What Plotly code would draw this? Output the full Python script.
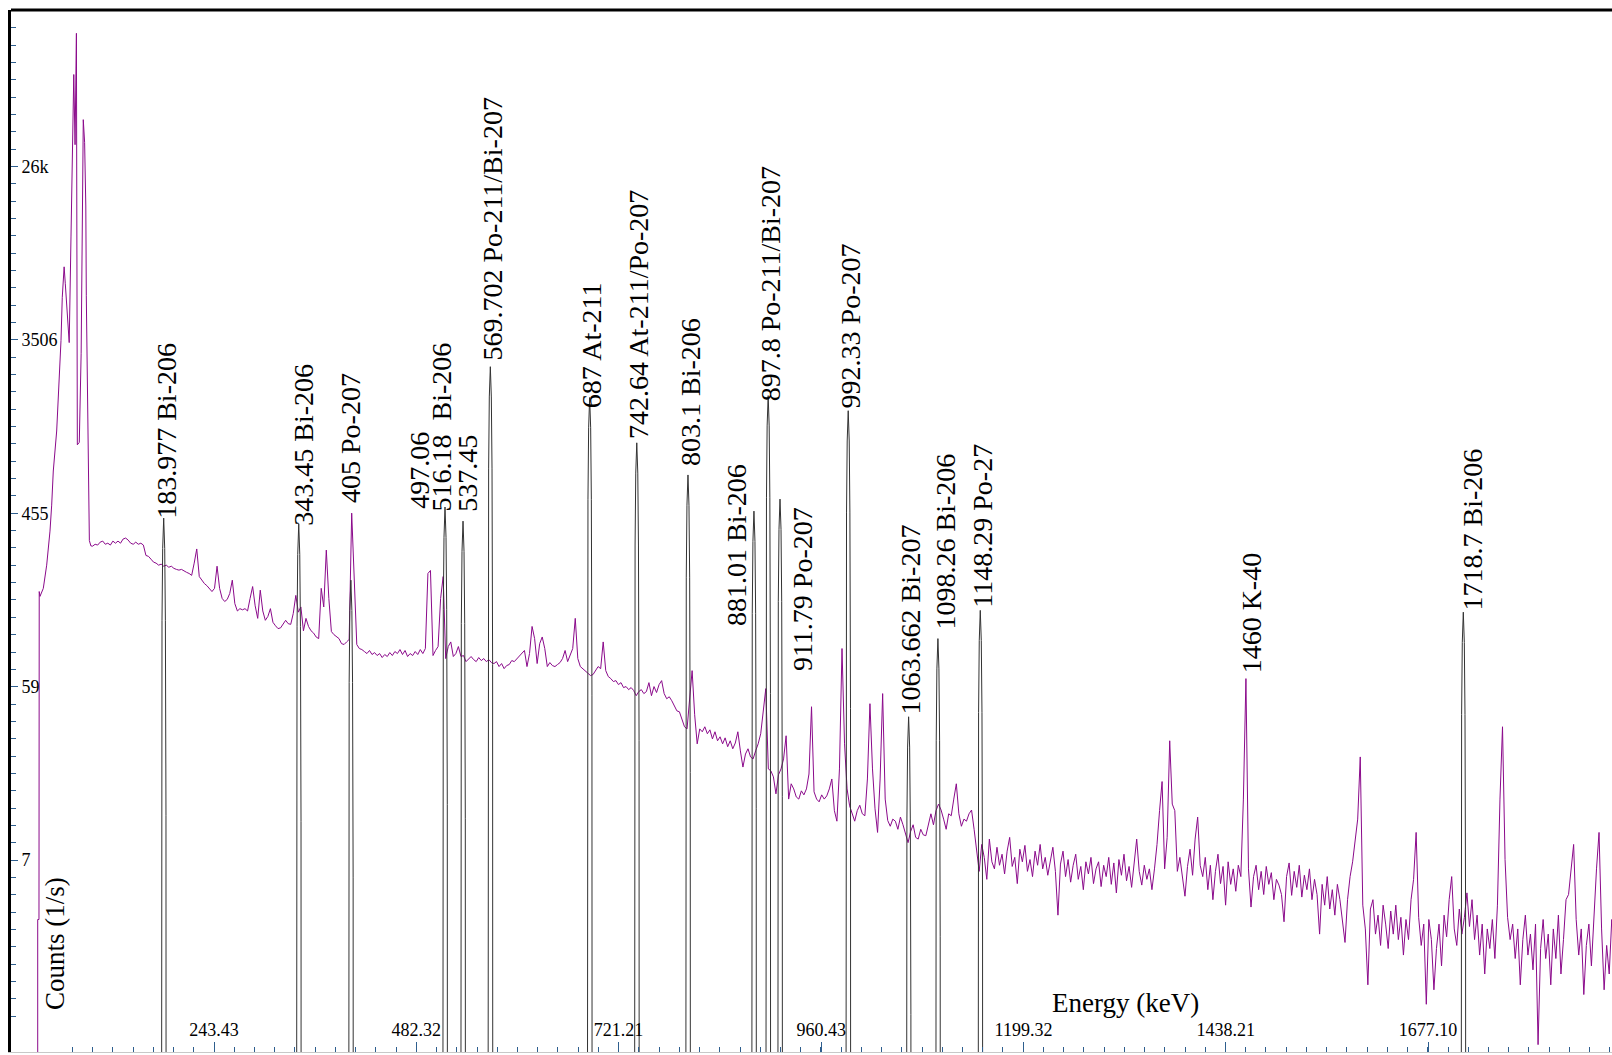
import numpy as np
import plotly.graph_objects as go

# ---------------------------------------------------------------------------
# Spectrum data (counts per second)
# ---------------------------------------------------------------------------

# Low-energy part with the Po K X-rays, listed point by point (keV, 1/s)
XRAY_KEV = [35.2, 35.2, 36.7, 37.0, 37.9, 41.8, 45.8, 49.7, 51.7, 53.6,
            57.6, 60.7, 62.7, 64.2, 66.4, 67.8, 69.6, 72.4, 74.5, 76.5,
            77.8, 79.3, 80.9, 82.0, 84.3, 86.5, 88.0, 89.0, 90.6, 92.0,
            92.6, 94.0, 95.0, 96.2, 98.0]
XRAY_CPS = [0.01, 3.8, 3.8, 181, 171, 188, 247, 369, 501, 749,
            1200, 2250, 3490, 5800, 8300, 6800, 5400, 3400, 11800, 37000,
            80000, 35000, 130000, 1020, 1050, 3000, 20000, 47000, 36000, 17000,
            5900, 2000, 700, 330, 310]

# Continuum from 100 keV upward, one channel every 3 keV
GRID_START_KEV = 100.0
GRID_STEP_KEV = 3.0
GRID_CPS = [
    309, 316, 313, 324, 328, 316, 320, 313, 328, 320,          # 100 keV
    328, 320, 336, 340, 332, 320, 316, 324, 316, 320,
    313, 277, 274, 265, 256, 253, 247, 250, 244, 247,
    241, 244, 238, 235, 233, 235, 230, 227, 224, 219,
    253, 299, 216, 207, 199, 194, 188, 181, 188, 244,
    188, 167, 161, 165, 177, 207, 157, 144, 148, 146,          # 250 keV
    148, 144, 167, 192, 153, 132, 184, 144, 129, 135,
    148, 126, 121, 117, 118, 123, 129, 124, 123, 140,
    173, 142, 151, 114, 132, 120, 114, 111, 106, 104,
    188, 151, 295, 167, 113, 109, 106, 104, 98, 97,
    100, 103, 456, 219, 97, 92.5, 91.4, 89.3, 87.2, 90.4,      # 400 keV
    86.2, 88.2, 85.2, 87.2, 83.2, 86.2, 84.2, 88.2, 85.2, 89.3,
    87.2, 91.4, 86.2, 90.4, 84.2, 87.2, 85.2, 89.3, 86.2, 91.4,
    87.2, 92.5, 224, 232, 85.2, 90.4, 94.7, 167, 216, 82.2,
    94.7, 100, 84.2, 87.2, 94.7, 84.2, 85.2, 79.3, 82.2, 84.2,
    81.2, 79.3, 83.2, 80.3, 82.2, 79.3, 81.2, 78.4, 77.5, 79.3,  # 550 keV
    74.8, 77.5, 73.0, 75.7, 76.6, 80.3, 79.3, 82.2, 84.2, 87.2,
    90.4, 74.8, 87.2, 120, 104, 77.5, 98, 106, 92.5, 74.8,
    78.4, 75.7, 74.8, 76.6, 78.4, 82.2, 90.4, 79.3, 86.2, 92.5,
    132, 82.2, 74.8, 73.0, 71.3, 68.9, 67.3, 68.1, 71.3, 74.8,
    73.0, 100, 71.3, 66.5, 64.9, 62.7, 63.4, 60.5, 61.9, 58.4,  # 700 keV
    59.1, 57.0, 58.4, 56.4, 53.1, 55.7, 57.0, 54.4, 55.7, 61.9,
    53.1, 59.1, 55.1, 60.5, 63.4, 54.4, 51.2, 52.4, 50.0, 46.6,
    44.4, 43.9, 39.6, 36.8, 35.9, 51.2, 71.3, 42.4, 30.1, 35.9,
    34.7, 36.8, 33.9, 35.5, 31.9, 34.7, 31.2, 32.7, 30.1, 32.3,
    29.1, 31.2, 28.4, 30.4, 34.7, 27.7, 22.9, 26.7, 28.4, 25.8,  # 850 keV
    25.2, 27.7, 30.1, 33.9, 45.5, 57.7, 22.4, 21.9, 20.4, 16.7,
    20.9, 22.4, 25.2, 33.1, 15.7, 18.8, 17.7, 16.1, 15.7, 17.3,
    16.5, 17.7, 21.1, 46.6, 17.1, 15.7, 15.2, 16.5, 15.7, 16.3,
    17.7, 19.9, 13.7, 12.1, 22.4, 92.5, 30.1, 17.7, 14.5, 13.2,
    12.1, 13.7, 14.6, 13.2, 12.9, 19.9, 48.3, 22.4, 14.0, 10.6,  # 1000 keV
    19.9, 54.4, 15.7, 12.2, 11.4, 12.4, 12.1, 11.0, 12.7, 11.6,
    10.4, 9.4, 10.7, 11.6, 10.0, 9.8, 11.0, 10.3, 10.2, 11.6,
    13.2, 11.6, 13.7, 14.8, 13.8, 12.4, 11.0, 13.2, 12.9, 15.7,
    18.8, 13.2, 11.4, 12.4, 12.1, 13.2, 13.8, 11.0, 8.7, 6.7,
    9.2, 7.9, 6.1, 9.8, 7.5, 6.9, 8.9, 7.2, 8.2, 6.5,           # 1150 keV
    8.5, 10.0, 7.1, 7.9, 5.8, 8.7, 7.5, 9.1, 6.7, 7.7,
    6.3, 8.5, 7.2, 9.2, 6.9, 7.9, 6.4, 7.5, 8.9, 6.7,
    4.0, 7.3, 8.5, 6.3, 7.7, 5.9, 7.2, 8.2, 6.1, 7.1,
    5.4, 7.5, 6.5, 7.9, 5.8, 6.9, 7.5, 5.6, 7.2, 6.3,
    7.9, 5.75, 7.4, 5.2, 7.7, 6.4, 8.2, 6.0, 7.1, 5.55,        # 1300 keV
    7.5, 9.8, 6.7, 5.7, 7.2, 6.1, 6.9, 5.4, 6.9, 9.2,
    13.7, 19.3, 6.9, 10.0, 31.2, 14.8, 13.7, 6.7, 7.9, 6.1,
    5.0, 7.1, 8.7, 6.4, 9.8, 12.7, 7.2, 6.3, 7.9, 5.4,
    7.2, 4.8, 6.7, 8.2, 5.8, 7.1, 4.5, 7.5, 5.75, 6.9,
    5.3, 7.2, 6.3, 15.7, 64.9, 6.9, 4.4, 6.3, 7.2, 5.4,        # 1450 keV
    6.7, 5.1, 7.1, 5.75, 6.6, 4.8, 6.1, 5.7, 5.1, 3.7,
    6.3, 7.4, 5.05, 6.7, 5.55, 7.2, 4.95, 6.4, 5.4, 6.9,
    4.8, 6.1, 5.1, 3.2, 5.75, 4.5, 6.3, 4.3, 5.4, 4.0,
    5.75, 4.8, 3.8, 2.9, 4.8, 6.3, 7.5, 9.8, 12.4, 25.8,
    4.5, 3.4, 1.76, 4.3, 4.8, 3.2, 4.0, 2.8, 4.5, 3.6,         # 1600 keV
    2.7, 4.2, 3.2, 4.5, 3.0, 3.9, 2.5, 3.8, 3.0, 4.8,
    6.1, 10.6, 3.9, 2.8, 3.6, 1.40, 3.8, 3.0, 1.66, 2.7,
    3.6, 2.2, 4.0, 3.1, 4.8, 6.3, 3.4, 2.8, 4.3, 3.2,
    3.9, 5.2, 3.5, 4.8, 3.0, 4.0, 2.5, 3.6, 2.0, 3.4,
    2.7, 3.8, 2.4, 4.5, 15.7, 36.8, 7.7, 3.9, 3.0, 3.6,        # 1750 keV
    2.4, 3.4, 1.76, 3.0, 4.0, 2.5, 3.2, 2.1, 3.6, 0.87,
    2.7, 3.8, 2.4, 3.2, 1.76, 3.4, 2.4, 4.0, 2.0, 3.0,
    4.8, 5.1, 6.9, 9.2, 3.8, 2.5, 3.4, 1.57, 2.8, 3.6,
    2.2, 4.3, 6.9, 10.6, 3.4, 1.66, 2.8, 2.0, 3.8, 2.7,
]

# Fitted peaks: centroid (keV) and peak height (1/s)
PEAK_KEV = [183.977, 343.45, 405.0, 516.18, 537.45, 569.702, 687.0, 742.64,
            803.1, 881.01, 897.8, 911.79, 992.33, 1063.662, 1098.26, 1148.29,
            1718.7]
PEAK_CPS = [430, 401, 207, 490, 415, 2560, 1780, 1044,
            715, 467, 1820, 538, 1524, 41.4, 104, 145,
            142]

# Peak identifications
LABEL_TEXT = ["183.977 Bi-206", "343.45 Bi-206", "405 Po-207", "497.06",
              "516.18  Bi-206", "537.45", "569.702 Po-211/Bi-207",
              "687 At-211", "742.64 At-211/Po-207", "803.1 Bi-206",
              "881.01 Bi-206", "897.8 Po-211/Bi-207", "911.79 Po-207",
              "992.33 Po-207", "1063.662 Bi-207", "1098.26 Bi-206",
              "1148.29 Po-27", "1460 K-40", "1718.7 Bi-206"]
LABEL_KEV = [183.977, 343.45, 405.0, 497.06, 516.18, 537.45, 569.702,
             687.0, 742.64, 803.1, 881.01, 897.8, 911.79, 992.33,
             1063.662, 1098.26, 1148.29, 1460.0, 1718.7]

# Axis ticks
X_TICK_VALS = [243.43, 482.32, 721.21, 960.43, 1199.32, 1438.21, 1677.10]
X_TICK_TEXT = ["243.43", "482.32", "721.21", "960.43", "1199.32", "1438.21", "1677.10"]
Y_TICK_VALS = [7.66, 59.0, 455.0, 3506.0, 27030.0]
Y_TICK_TEXT = ["7", "59", "455", "3506", "26k"]

# ---------------------------------------------------------------------------
# Styling
# ---------------------------------------------------------------------------
FONT = "Liberation Serif, Times New Roman, serif"
SPECTRUM_COLOR = "#8B0A8B"
PEAK_COLOR = "#333333"
TICK_COLOR = "#2E5E8E"

# pixel nudges for crowded labels (dx, dy)
LABEL_NUDGE = {
    "183.977 Bi-206": (0, -3), "343.45 Bi-206": (2, -4), "405 Po-207": (-3, 8),
    "497.06": (-11, 60), "516.18  Bi-206": (-5, -7), "537.45": (3, 7),
    "569.702 Po-211/Bi-207": (0, 4), "687 At-211": (0, -13),
    "742.64 At-211/Po-207": (0, 2), "803.1 Bi-206": (1, 7),
    "881.01 Bi-206": (-20, -117), "897.8 Po-211/Bi-207": (0, -8),
    "911.79 Po-207": (20, -174),
    "1098.26 Bi-206": (6, 7), "1148.29 Po-27": (0, 1),
    "1460 K-40": (5, 3), "1718.7 Bi-206": (7, 0),
}
LABEL_GAP = 0

# ---------------------------------------------------------------------------
energy = np.concatenate([XRAY_KEV,
                         GRID_START_KEV + GRID_STEP_KEV * np.arange(len(GRID_CPS))])
counts = np.concatenate([XRAY_CPS, GRID_CPS]).astype(float)

# outline of each fitted peak, drawn as a narrow spike around its centroid
SHAPE_DKEV = np.array([-3.0, -2.7, -2.0, -1.2, 0.0, 1.2, 2.0, 2.7, 3.0])
SHAPE_REL = np.array([1e-6, 0.03, 0.30, 0.70, 1.0, 0.70, 0.30, 0.03, 1e-6])
peak_x, peak_y = [], []
for e, h in zip(PEAK_KEV, PEAK_CPS):
    peak_x += list(e + SHAPE_DKEV) + [None]
    peak_y += list(h * SHAPE_REL) + [None]

fig = go.Figure()
fig.add_trace(go.Scatter(x=energy, y=counts, mode="lines",
                         line=dict(color=SPECTRUM_COLOR, width=1),
                         hoverinfo="x+y", showlegend=False))
fig.add_trace(go.Scatter(x=peak_x, y=peak_y, mode="lines",
                         line=dict(color=PEAK_COLOR, width=1),
                         connectgaps=False, hoverinfo="skip", showlegend=False))

peak_height = dict(zip(PEAK_KEV, PEAK_CPS))
for text, e in zip(LABEL_TEXT, LABEL_KEV):
    near = np.abs(energy - e) <= 3.5
    top = max(counts[near].max() if near.any() else 0.0, peak_height.get(e, 0.0))
    dx, dy = LABEL_NUDGE.get(text, (0, 0))
    fig.add_annotation(x=e, y=np.log10(top), xref="x", yref="y",
                       text=text, textangle=-90, showarrow=False,
                       xanchor="center", yanchor="bottom",
                       xshift=2 + dx, yshift=LABEL_GAP + dy,
                       font=dict(family=FONT, size=28, color="black"))

# axis titles sit inside the plotting area
fig.add_annotation(x=0.0275, y=0.1036, xref="paper", yref="paper",
                   text="Counts (1/s)", textangle=-90, showarrow=False,
                   xanchor="center", yanchor="middle",
                   font=dict(family=FONT, size=27, color="black"))
fig.add_annotation(x=0.6961, y=0.047, xref="paper", yref="paper",
                   text="Energy (keV)", showarrow=False,
                   xanchor="center", yanchor="middle",
                   font=dict(family=FONT, size=27, color="black"))

# frame line along the top
fig.add_shape(type="line", xref="paper", yref="paper", x0=0, x1=1, y0=1, y1=1,
              line=dict(color="black", width=3))

fig.update_layout(
    width=1612, height=1055,
    margin=dict(l=11, r=0, t=10, b=3, autoexpand=False),
    paper_bgcolor="white", plot_bgcolor="white",
    font=dict(family=FONT, color="black"),
    xaxis=dict(
        range=[3.66, 1894.3], showgrid=False, zeroline=False,
        showline=True, linecolor="#c8c8c8", linewidth=1,
        ticks="inside", ticklen=10, tickwidth=1, tickcolor=TICK_COLOR,
        tickmode="array", tickvals=X_TICK_VALS, ticktext=X_TICK_TEXT,
        ticklabelposition="inside", ticklabelstandoff=3,
        tickfont=dict(family=FONT, size=18, color="black"),
        minor=dict(ticks="inside", ticklen=5, tickwidth=1, tickcolor=TICK_COLOR,
                   tickmode="linear", tick0=4.54, dtick=23.889, showgrid=False),
    ),
    yaxis=dict(
        type="log", range=[-0.0981, 5.2332], showgrid=False, zeroline=False,
        showline=True, linecolor="black", linewidth=3,
        ticks="inside", ticklen=7, tickwidth=1, tickcolor=TICK_COLOR,
        tickmode="array", tickvals=Y_TICK_VALS, ticktext=Y_TICK_TEXT,
        ticklabelposition="inside", ticklabelstandoff=4,
        tickfont=dict(family=FONT, size=18, color="black"),
        minor=dict(ticks="inside", ticklen=5, tickwidth=1, tickcolor=TICK_COLOR,
                   tickmode="linear", tick0=0.8842, dtick=0.08869, showgrid=False),
    ),
)

fig.write_html("out.html")
